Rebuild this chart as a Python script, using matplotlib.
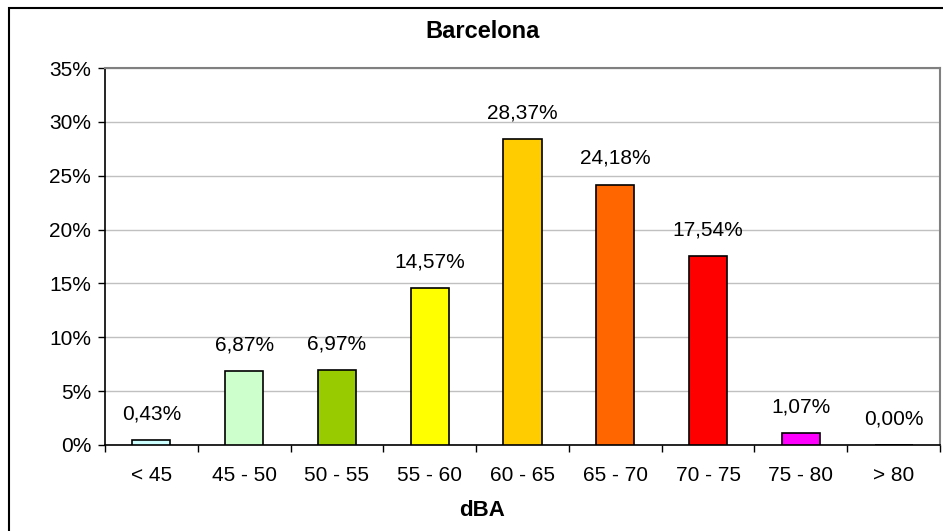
import matplotlib.pyplot as plt
from matplotlib.patches import Rectangle
import numpy as np

plt.rcParams['font.family'] = ['Liberation Sans', 'DejaVu Sans']

categories = ['< 45', '45 - 50', '50 - 55', '55 - 60', '60 - 65', '65 - 70', '70 - 75', '75 - 80', '> 80']
values = [0.43, 6.87, 6.97, 14.57, 28.37, 24.18, 17.54, 1.07, 0.00]
colors = ['#CCFFFF', '#CCFFCC', '#99CC00', '#FFFF00', '#FFCC00', '#FF6600', '#FF0000', '#FF00FF', '#FFFFFF']
yticks = [0, 5, 10, 15, 20, 25, 30, 35]

W, H = 943, 531
fig = plt.figure(figsize=(W / 100, H / 100), dpi=100)
fig.patch.set_facecolor('white')

# outer chart frame (runs off the right and bottom edges)
fig.patches.append(Rectangle((9 / W, -0.05), 1.2, 1 - 8 / H + 0.05, transform=fig.transFigure,
                             fill=False, edgecolor='black', linewidth=1.5))

ax = fig.add_axes([105 / W, 1 - 445 / H, (940 - 105) / W, (445 - 68) / H])
x = np.arange(len(categories))
ax.bar(x, values, width=0.41, color=colors, edgecolor='black', linewidth=1.2, zorder=3)

for xi, v in zip(x, values):
    ax.annotate(f'{v:.2f}%'.replace('.', ','), (xi, v), xytext=(0, 19), textcoords='offset points',
                ha='center', va='center', fontsize=15)

ax.set_xlim(-0.5, len(categories) - 0.5)
ax.set_ylim(0, 35)
ax.set_yticks(yticks)
ax.set_yticklabels([f'{t}%' for t in yticks], fontsize=15)
ax.set_xticks(x)
ax.set_xticklabels(categories, fontsize=15)
ax.set_xticks(np.arange(len(categories) + 1) - 0.5, minor=True)
ax.tick_params(axis='x', which='major', length=0, pad=15)
ax.tick_params(axis='x', which='minor', length=5, width=1, direction='out')
ax.tick_params(axis='y', length=5, width=1, direction='out', pad=5)
ax.yaxis.grid(True, color='#C0C0C0', linewidth=1, zorder=0)

for side in ['top', 'right']:
    ax.spines[side].set_color('#808080')
    ax.spines[side].set_linewidth(1.5)
for side in ['left', 'bottom']:
    ax.spines[side].set_color('black')
    ax.spines[side].set_linewidth(1.2)

fig.text(483 / W, 1 - 32 / H, 'Barcelona', ha='center', va='center', fontsize=17, fontweight='bold')
fig.text(482 / W, 1 - 511 / H, 'dBA', ha='center', va='center', fontsize=16, fontweight='bold')

fig.savefig('out.png', dpi=100)
